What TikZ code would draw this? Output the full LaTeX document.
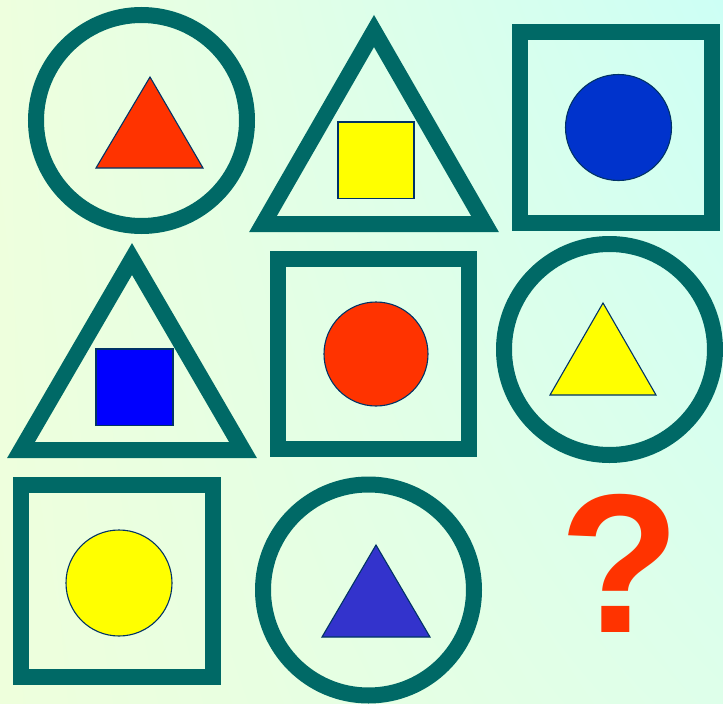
\documentclass[tikz,border=0pt]{standalone}
\usepackage{fontspec}
\usetikzlibrary{shadings}
\newfontfamily\qfont{Liberation Sans}
\definecolor{teal}{HTML}{006966}
\definecolor{qred}{HTML}{FF3300}
\definecolor{navy}{HTML}{003366}
\definecolor{sblue}{HTML}{0033CC}
\definecolor{pblue}{HTML}{0000FF}
\definecolor{tblue}{HTML}{3333CC}
\definecolor{yel}{HTML}{FFFF00}
\definecolor{bgul}{HTML}{EEFFDE}
\definecolor{bgur}{HTML}{CDFFF5}
\definecolor{bgll}{HTML}{EEFFDC}
\definecolor{bglr}{HTML}{DEFFEA}
\tikzset{
  big/.style={draw=teal, line width=16pt, miter limit=10},
  small/.style={draw=navy, line width=1.1pt, line join=miter},
}
\begin{document}
\begin{tikzpicture}[x=1pt,y=-1pt]
\useasboundingbox (0,0) rectangle (723,704);
\shade[upper left=bgul, upper right=bgur, lower left=bgll, lower right=bglr]
  (0,0) rectangle (723,704);
% row 1
\draw[big] (141.5,120.5) circle[radius=105.5];
\draw[small, fill=qred] (150,77) -- (203,168) -- (96,168) -- cycle;
\draw[big] (374,31) -- (485,224) -- (263,224) -- cycle;
\draw[small, fill=yel] (338,122) rectangle (414,198.5);
\draw[big] (520,32) rectangle (712,223);
\draw[small, fill=sblue] (618.5,127.5) circle[radius=53];
% row 2
\draw[big] (132,259) -- (243,450) -- (21,450) -- cycle;
\draw[small, fill=pblue] (96,349) rectangle (173,425.5);
\draw[big] (278,259) rectangle (469,449);
\draw[small, fill=qred] (376,354) circle[radius=52];
\draw[big] (609.5,349.5) circle[radius=105.5];
\draw[small, fill=yel] (603,303) -- (656,395) -- (550,395) -- cycle;
% row 3
\draw[big] (21,485) rectangle (213,677);
\draw[small, fill=yel] (119,583) circle[radius=53];
\draw[big] (368.5,590) circle[radius=105.5];
\draw[small, fill=tblue] (376,545) -- (430,637) -- (322,637) -- cycle;
\node (q) [anchor=base, inner sep=0pt, text=qred, font=\qfont\bfseries\fontsize{198}{198}\selectfont] at (620,632) {?};
\end{tikzpicture}
\end{document}
